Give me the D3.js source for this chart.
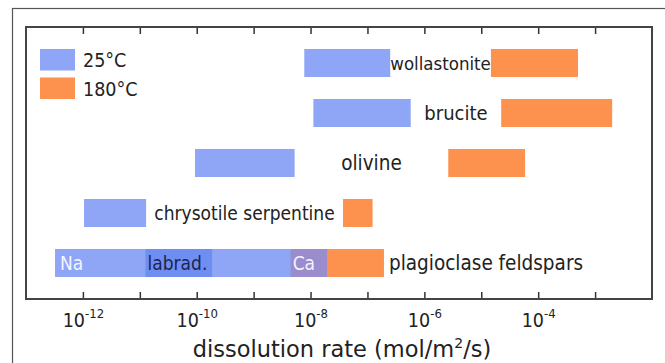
<!DOCTYPE html>
<html>
<head>
<meta charset="utf-8">
<script src="https://cdn.jsdelivr.net/npm/d3@7"></script>
<style>
  body { margin: 0; background: #fff; }
  svg text { font-family: "DejaVu Sans", Verdana, sans-serif; font-stretch: condensed; fill: #222; }
</style>
</head>
<body>
<script>
const w = 665;
const h = 363;
const plotLeft = 26, plotRight = 652, plotTop = 27, plotBottom = 299;
const barH = 28;
const blue = "#8fa5f6";
const orange = "#fd924f";

// log10 of dissolution rate (mol/m2/s)
const minerals = ["wollastonite", "brucite", "olivine", "chrysotile serpentine", "plagioclase feldspars"];
const low25 = [-8.11, -7.95, -10.03, -11.98, -12.49];
const high25 = [-6.60, -6.24, -8.28, -10.89, -7.70];
const low180 = [-4.83, -4.65, -5.58, -7.43, -7.70];
const high180 = [-3.30, -2.70, -4.23, -6.91, -6.71];
const labelSize = [18.5, 20, 20.5, 19, 20.5];

// plagioclase sub-ranges at 25C
const plagNames = ["Na", "labrad.", "Ca"];
const plagLow = [-12.49, -10.90, -8.35];
const plagHigh = [-10.90, -9.73, -7.70];
const plagFill = [null, "#6f8ef1", "#9a8ccd"];
const plagText = ["#f4f6ff", "#1c2450", "#f4f2ff"];

const tickExps = [-12, -11, -10, -9, -8, -7, -6, -5, -4, -3];
const legendNames = ["25°C", "180°C"];

const svg = d3.select("body").append("svg").attr("width", w).attr("height", h);

const x = d3.scaleLog().domain([1e-13, 1e-2]).range([plotLeft, plotRight]);
const y = d3.scalePoint().domain(minerals).range([63, 263]);
const X = (e) => x(Math.pow(10, e));

// outer frame
svg.append("rect")
  .attr("x", 12.5).attr("y", 8.5)
  .attr("width", 700).attr("height", 400)
  .attr("fill", "none").attr("stroke", "#555").attr("stroke-width", 1.2);

// 25C bars
svg.append("g").selectAll("rect")
  .data(minerals)
  .join("rect")
  .attr("x", (d, i) => X(low25[i]))
  .attr("width", (d, i) => X(high25[i]) - X(low25[i]))
  .attr("y", (d) => y(d) - barH / 2)
  .attr("height", barH)
  .attr("fill", blue);

// plagioclase overlays
svg.append("g").selectAll("rect")
  .data(plagNames.filter((d, i) => plagFill[i]))
  .join("rect")
  .attr("x", (d) => X(plagLow[plagNames.indexOf(d)]))
  .attr("width", (d) => X(plagHigh[plagNames.indexOf(d)]) - X(plagLow[plagNames.indexOf(d)]))
  .attr("y", y(minerals[4]) - barH / 2)
  .attr("height", barH)
  .attr("fill", (d) => plagFill[plagNames.indexOf(d)]);

// 180C bars
svg.append("g").selectAll("rect")
  .data(minerals)
  .join("rect")
  .attr("x", (d, i) => X(low180[i]))
  .attr("width", (d, i) => X(high180[i]) - X(low180[i]))
  .attr("y", (d) => y(d) - barH / 2)
  .attr("height", barH)
  .attr("fill", orange);

// mineral labels
svg.append("g").selectAll("text")
  .data(minerals)
  .join("text")
  .attr("x", (d, i) => i === 4 ? X(high180[i]) + 5 : (X(high25[i]) + X(low180[i])) / 2)
  .attr("y", (d) => y(d))
  .attr("dy", "0.36em")
  .attr("text-anchor", (d, i) => i === 4 ? "start" : "middle")
  .attr("font-size", (d, i) => labelSize[i])
  .text((d) => d);

svg.append("g").selectAll("text")
  .data(plagNames)
  .join("text")
  .attr("x", (d, i) => X(plagLow[i]) + (i === 0 ? 5 : 2))
  .attr("y", y(minerals[4]))
  .attr("dy", "0.36em")
  .attr("font-size", 19)
  .style("fill", (d, i) => plagText[i])
  .text((d) => d);

// legend
const legend = svg.append("g").attr("transform", "translate(40,49)");
legend.selectAll("rect")
  .data(legendNames)
  .join("rect")
  .attr("x", 0).attr("y", (d, i) => i * 28.5)
  .attr("width", 35).attr("height", 21.5)
  .attr("fill", (d, i) => i === 0 ? blue : orange);
legend.selectAll("text")
  .data(legendNames)
  .join("text")
  .attr("x", 43).attr("y", (d, i) => i * 28.5 + 11)
  .attr("dy", "0.36em")
  .attr("font-size", 19.5)
  .text((d) => d);

// axes
const fmt = (d) => "";
const xBottom = d3.axisBottom(x).tickValues(tickExps.map((e) => Math.pow(10, e)))
  .tickSize(-7).tickSizeOuter(0).tickFormat(fmt);
const xTop = d3.axisTop(x).tickValues(tickExps.map((e) => Math.pow(10, e)))
  .tickSize(-7).tickSizeOuter(0).tickFormat(fmt);

const gB = svg.append("g").attr("transform", `translate(0,${plotBottom})`).call(xBottom);
const gT = svg.append("g").attr("transform", `translate(0,${plotTop})`).call(xTop);
[gB, gT].forEach((g) => {
  g.select(".domain").remove();
  g.selectAll(".tick line").attr("stroke", "#333").attr("stroke-width", 1.5);
});

gB.selectAll(".tick text")
  .attr("y", 0)
  .attr("dy", 0)
  .each(function (d) {
    const e = Math.round(Math.log10(d));
    const t = d3.select(this);
    if (e % 2 !== 0) return;
    t.attr("transform", "translate(0,28)")
      .attr("font-size", 19.5)
      .attr("text-anchor", "middle");
    t.append("tspan").text("10");
    t.append("tspan").attr("dy", -9).attr("font-size", 13).text(e);
  });

// plot frame
svg.append("rect")
  .attr("x", plotLeft).attr("y", plotTop)
  .attr("width", plotRight - plotLeft).attr("height", plotBottom - plotTop)
  .attr("fill", "none").attr("stroke", "#444").attr("stroke-width", 2);

// axis title
const title = svg.append("text")
  .attr("x", 342)
  .attr("y", 357)
  .attr("text-anchor", "middle")
  .attr("font-size", 22.5)
  .style("font-stretch", "normal");
title.append("tspan").text("dissolution rate (mol/m");
title.append("tspan").attr("dy", -9).attr("font-size", 14).text("2");
title.append("tspan").attr("dy", 9).text("/s)");
</script>
</body>
</html>
